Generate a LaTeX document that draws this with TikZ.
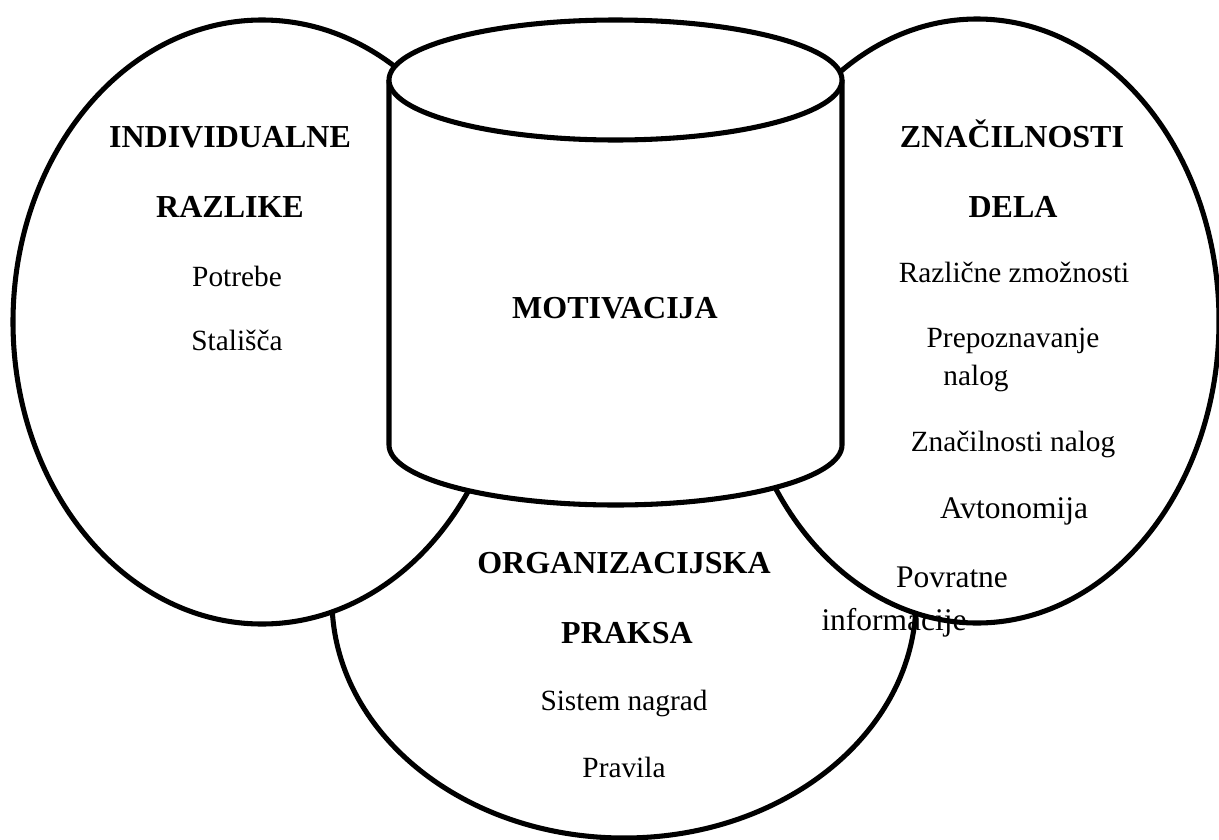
\documentclass[tikz,border=0pt]{standalone}
\usepackage{fontspec}
\setmainfont{Liberation Serif}
\begin{document}
\begin{tikzpicture}[x=0.75pt,y=-0.75pt,
  outline/.style={draw=black,line width=3.8pt,fill=white,line join=round},
  head/.style={inner sep=0pt,anchor=base,font=\fontsize{24}{28}\selectfont\bfseries},
  item/.style={inner sep=0pt,anchor=base,font=\fontsize{22}{26}\selectfont},
  itembig/.style={inner sep=0pt,anchor=base,font=\fontsize{23.6}{28}\selectfont}]
\useasboundingbox (0,0) rectangle (1219,839);

% organisational practice (bottom)
\path[outline] (624,600) ellipse [x radius=292, y radius=238];
% individual differences (left)
\path[outline] (262,322) ellipse [x radius=249, y radius=302];
% job characteristics (right)
\path[outline] (977,321) ellipse [x radius=242, y radius=302];

% motivation cylinder
\path[outline] (389,80) -- (389,445)
  arc [start angle=180, end angle=0, x radius=226.5, y radius=60] -- (842,80);
\path[outline] (615.5,80) ellipse [x radius=226.5, y radius=60];

% texts
\node[head] (ind1) at (230,147) {INDIVIDUALNE};
\node[head] (ind2) at (230,217) {RAZLIKE};
\node[item] (ind3) at (237,286) {Potrebe};
\node[item] (ind4) at (237,350) {Stališča};

\node[head] (mot) at (615,318) {MOTIVACIJA};

\node[head] (job1) at (1012,147) {ZNAČILNOSTI};
\node[head] (job2) at (1013,217) {DELA};
\node[item] (job3) at (1014,282) {Različne zmožnosti};
\node[item] (job4) at (1013,347) {Prepoznavanje};
\node[item] (job5) at (976,385) {nalog};
\node[item] (job6) at (1013,451) {Značilnosti nalog};
\node[itembig] (job7) at (1014,518) {Avtonomija};
\node[itembig] (job8) at (952,587) {Povratne};
\node[itembig] (job9) at (894,630) {informacije};

\node[head] (org1) at (624,573) {ORGANIZACIJSKA};
\node[head] (org2) at (627,643) {PRAKSA};
\node[item] (org3) at (624,710) {Sistem nagrad};
\node[item] (org4) at (624,777) {Pravila};
\end{tikzpicture}
\end{document}
